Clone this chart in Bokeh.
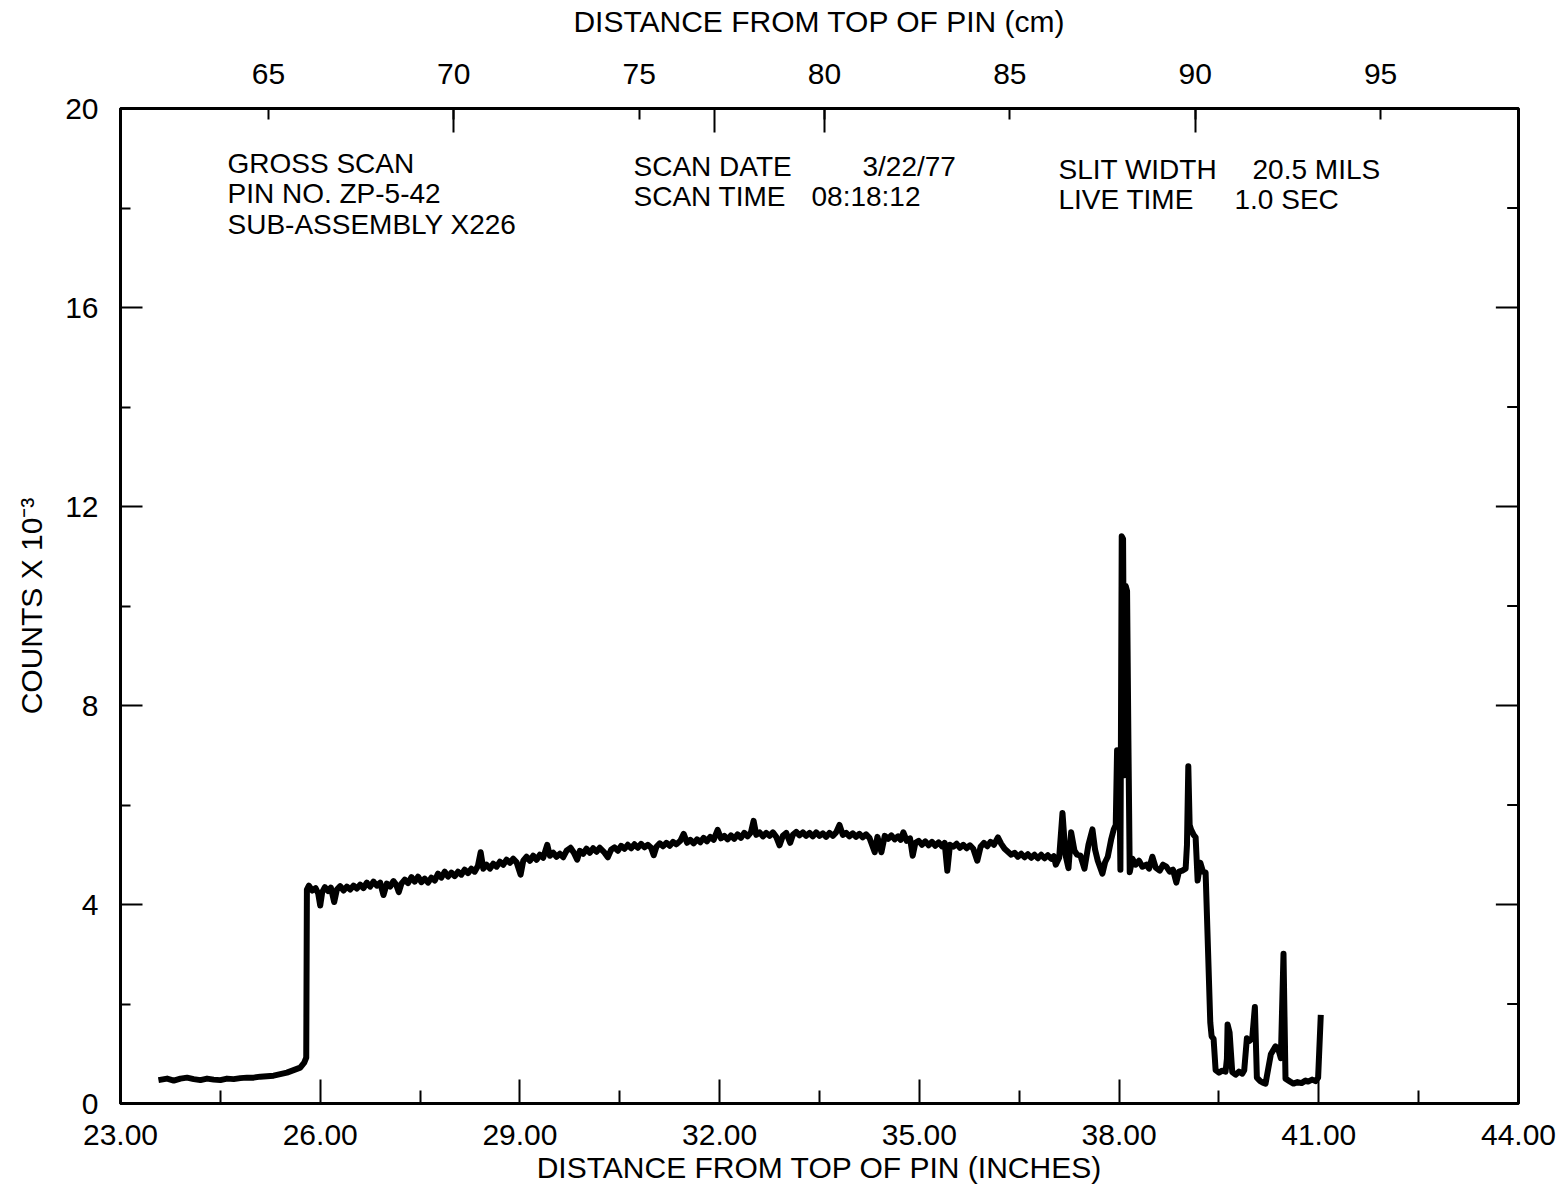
from bokeh.plotting import figure
from bokeh.models import (Range1d, LinearAxis, FixedTicker, PrintfTickFormatter,
                          Label, ColumnDataSource)
from bokeh.embed import file_html
from bokeh.resources import INLINE

# ---------------- data ----------------
# distance from top of pin (inches) and counts x 10^-3
scan_x_in = [
    23.57, 23.70, 23.80, 23.90, 24.00, 24.10, 24.20, 24.30, 24.40, 24.50,
    24.60, 24.70, 24.80, 24.90, 25.00, 25.10, 25.20, 25.30, 25.40, 25.50,
    25.60, 25.70, 25.76, 25.79, 25.80,
    25.83, 25.88, 25.93, 25.97, 26.00, 26.03, 26.07, 26.12, 26.16, 26.21,
    26.25, 26.30, 26.35, 26.40, 26.45, 26.50, 26.55, 26.60, 26.65, 26.70,
    26.75, 26.80, 26.85, 26.90, 26.95, 27.00, 27.05, 27.10, 27.14, 27.18,
    27.22, 27.27, 27.32, 27.37, 27.42, 27.47, 27.52, 27.57, 27.62, 27.67,
    27.72, 27.77, 27.82, 27.87, 27.92, 27.97, 28.02, 28.07, 28.12, 28.17,
    28.22, 28.27, 28.32, 28.37, 28.41, 28.45, 28.50, 28.55, 28.60, 28.65,
    28.70, 28.75, 28.80, 28.85, 28.90, 28.95, 29.01, 29.05, 29.10, 29.15,
    29.20, 29.25, 29.30, 29.35, 29.41, 29.45, 29.50, 29.55, 29.60, 29.65,
    29.70, 29.76, 29.81, 29.86, 29.90, 29.95, 30.00, 30.05, 30.10, 30.15,
    30.20, 30.26, 30.32, 30.37, 30.42, 30.47, 30.52, 30.57, 30.62, 30.67,
    30.72, 30.77, 30.82, 30.87, 30.92, 30.97, 31.01, 31.05, 31.10, 31.15,
    31.20, 31.25, 31.30, 31.35, 31.41, 31.46, 31.51, 31.56, 31.61, 31.66,
    31.71, 31.76, 31.81, 31.86, 31.91, 31.97, 32.02, 32.07, 32.12, 32.17,
    32.22, 32.27, 32.32, 32.37, 32.42, 32.47, 32.51, 32.55, 32.60, 32.65,
    32.70, 32.75, 32.80, 32.85, 32.90, 32.95, 33.00, 33.06, 33.10, 33.15,
    33.20, 33.25, 33.30, 33.35, 33.40, 33.45, 33.50, 33.55, 33.60, 33.65,
    33.70, 33.75, 33.80, 33.85, 33.90, 33.95, 34.00, 34.05, 34.10, 34.15,
    34.20, 34.25, 34.33, 34.37, 34.43, 34.48, 34.53, 34.58, 34.63, 34.68,
    34.72, 34.76, 34.81, 34.86, 34.90, 34.94, 34.99, 35.04, 35.09, 35.14,
    35.19, 35.24, 35.29, 35.34, 35.38, 35.42, 35.46, 35.51, 35.56, 35.61,
    35.66, 35.71, 35.76, 35.81, 35.87, 35.92, 35.97, 36.02, 36.07, 36.12,
    36.18, 36.23, 36.28, 36.33, 36.38, 36.43, 36.48, 36.53, 36.58, 36.63,
    36.68, 36.73, 36.78, 36.83, 36.88, 36.93, 36.98, 37.02, 37.05, 37.10,
    37.15, 37.195, 37.24, 37.28, 37.33, 37.37, 37.42, 37.48, 37.54, 37.60,
    37.64, 37.68, 37.75, 37.79, 37.83, 37.88, 37.92, 37.95, 37.97, 38.00,
    38.02, 38.04, 38.06, 38.08, 38.10, 38.12, 38.14, 38.16, 38.20, 38.25,
    38.30, 38.35, 38.41, 38.45, 38.50, 38.55, 38.61, 38.66, 38.71, 38.76,
    38.81, 38.86, 38.90, 38.95, 39.00, 39.02, 39.04, 39.06, 39.08, 39.12,
    39.15, 39.18, 39.22, 39.26, 39.30, 39.37, 39.39, 39.42, 39.45, 39.50,
    39.55, 39.60, 39.62, 39.63, 39.66, 39.70, 39.75, 39.80, 39.85, 39.88,
    39.92, 39.96, 40.00, 40.04, 40.06, 40.07, 40.12, 40.16, 40.20, 40.28,
    40.35, 40.40, 40.43, 40.47, 40.50, 40.57, 40.62, 40.68, 40.74, 40.80,
    40.84, 40.90, 40.95, 40.99, 41.03,
]
scan_counts_k = [
    0.47, 0.50, 0.46, 0.50, 0.52, 0.49, 0.47, 0.50, 0.48, 0.47,
    0.50, 0.49, 0.51, 0.52, 0.52, 0.54, 0.55, 0.56, 0.59, 0.62,
    0.67, 0.72, 0.82, 0.92, 4.30,
    4.38, 4.28, 4.33, 4.22, 3.98, 4.25, 4.35, 4.27, 4.34, 4.05,
    4.30, 4.37, 4.28, 4.36, 4.30, 4.38, 4.32, 4.40, 4.33, 4.44,
    4.36, 4.46, 4.38, 4.44, 4.19, 4.42, 4.36, 4.47, 4.40, 4.25,
    4.42, 4.50, 4.43, 4.55, 4.46, 4.56, 4.45, 4.52, 4.44, 4.54,
    4.48, 4.62, 4.54, 4.66, 4.56, 4.64, 4.57, 4.66, 4.60, 4.70,
    4.63, 4.72, 4.66, 4.78, 5.05, 4.72, 4.80, 4.72, 4.82, 4.76,
    4.86, 4.80, 4.90, 4.84, 4.92, 4.85, 4.60, 4.88, 4.96, 4.88,
    4.98, 4.90, 5.00, 4.94, 5.20, 4.98, 5.04, 4.96, 5.02, 4.95,
    5.08, 5.14, 5.04, 4.90, 5.08, 5.02, 5.12, 5.04, 5.13, 5.06,
    5.14, 5.06, 4.95, 5.10, 5.15, 5.08, 5.18, 5.12, 5.20, 5.13,
    5.21, 5.14, 5.22, 5.15, 5.20, 5.14, 4.99, 5.16, 5.23, 5.17,
    5.24, 5.18, 5.26, 5.21, 5.28, 5.42, 5.24, 5.30, 5.23, 5.31,
    5.25, 5.34, 5.27, 5.36, 5.30, 5.50, 5.33, 5.38, 5.31, 5.39,
    5.32, 5.41, 5.34, 5.44, 5.37, 5.45, 5.68, 5.40, 5.45, 5.37,
    5.44, 5.38, 5.45, 5.36, 5.19, 5.38, 5.44, 5.24, 5.40, 5.46,
    5.39, 5.45, 5.38, 5.44, 5.37, 5.45, 5.38, 5.43, 5.36, 5.44,
    5.38, 5.45, 5.60, 5.40, 5.44, 5.37, 5.43, 5.36, 5.42, 5.35,
    5.41, 5.34, 5.05, 5.36, 5.05, 5.38, 5.32, 5.39, 5.31, 5.37,
    5.30, 5.45, 5.28, 5.33, 4.98, 5.24, 5.28, 5.20, 5.27, 5.19,
    5.26, 5.18, 5.25, 5.17, 5.24, 4.68, 5.20, 5.16, 5.22, 5.14,
    5.20, 5.13, 5.19, 5.12, 4.88, 5.16, 5.24, 5.17, 5.26, 5.20,
    5.35, 5.22, 5.12, 5.06, 5.00, 5.04, 4.96, 5.02, 4.95, 5.01,
    4.94, 5.00, 4.93, 5.00, 4.93, 4.99, 4.92, 4.97, 4.80, 4.94,
    5.84, 5.00, 4.73, 5.45, 5.08, 5.00, 4.98, 4.72, 5.20, 5.51,
    5.10, 4.88, 4.62, 4.85, 4.96, 5.30, 5.51, 5.60, 7.10, 7.05,
    4.70, 11.40, 11.35, 6.60, 10.40, 10.30, 7.30, 4.65, 4.92, 4.80,
    4.88, 4.76, 4.80, 4.72, 4.96, 4.74, 4.68, 4.80, 4.76, 4.66,
    4.70, 4.44, 4.66, 4.68, 4.72, 5.20, 6.78, 5.60, 5.51, 5.40,
    5.35, 4.48, 4.84, 4.66, 4.64, 1.63, 1.35, 1.30, 0.67, 0.62,
    0.66, 0.64, 0.90, 1.59, 1.43, 0.63, 0.58, 0.64, 0.60, 0.67,
    1.31, 1.26, 1.31, 1.94, 1.00, 0.52, 0.45, 0.42, 0.40, 0.99,
    1.15, 1.05, 0.91, 3.01, 0.50, 0.44, 0.40, 0.43, 0.41, 0.46,
    0.44, 0.48, 0.45, 0.52, 1.78,
]

# axis definitions
inch_major_ticks = [23, 26, 29, 32, 35, 38, 41, 44]
inch_minor_ticks = [24.5, 27.5, 30.5, 33.5, 36.5, 39.5, 42.5]
count_major_ticks = [0, 4, 8, 12, 16, 20]
count_minor_ticks = [2, 6, 10, 14, 18]
right_major_ticks = [4, 8, 12, 16]
right_minor_ticks = [2, 6, 10, 14, 18]
cm_label_ticks = [65, 70, 75, 80, 85, 90, 95]
cm_long_ticks = [70, 77.03, 80, 90]
cm_range = (61.01, 98.72)

header_left = ["GROSS SCAN", "PIN NO. ZP-5-42", "SUB-ASSEMBLY X226"]

FONT = "Liberation Sans"

src = ColumnDataSource(dict(x=scan_x_in, y=scan_counts_k))

p = figure(width=1567, height=1189, x_range=Range1d(23, 44), y_range=Range1d(0, 20),
           output_backend="svg", toolbar_location=None,
           min_border_left=120, min_border_right=49, min_border_top=108,
           min_border_bottom=86, x_axis_location=None, y_axis_location=None)
p.grid.visible = False
p.outline_line_color = "black"
p.outline_line_width = 3
p.background_fill_color = "white"
p.border_fill_color = "white"

p.extra_x_ranges = {"cm": Range1d(*cm_range)}


def style(ax, major_len, minor_len):
    ax.axis_line_color = "black"
    ax.axis_line_width = 3
    ax.major_tick_line_color = "black"
    ax.minor_tick_line_color = "black"
    ax.major_tick_line_width = 2
    ax.minor_tick_line_width = 2
    ax.major_tick_in = major_len
    ax.major_tick_out = 0
    ax.minor_tick_in = minor_len
    ax.minor_tick_out = 0
    ax.major_label_text_font = FONT
    ax.major_label_text_font_size = "30px"
    ax.major_label_text_color = "black"
    ax.axis_label_text_font = FONT
    ax.axis_label_text_font_size = "30px"
    ax.axis_label_text_font_style = "normal"
    ax.axis_label_text_color = "black"


xb = LinearAxis(ticker=FixedTicker(ticks=inch_major_ticks, minor_ticks=inch_minor_ticks),
                formatter=PrintfTickFormatter(format="%.2f"),
                axis_label="DISTANCE FROM TOP OF PIN (INCHES)")
style(xb, 24, 13)
xb.major_label_standoff = 21
xb.axis_label_standoff = 3
p.add_layout(xb, "below")

xt = LinearAxis(x_range_name="cm",
                ticker=FixedTicker(ticks=cm_label_ticks, minor_ticks=cm_long_ticks),
                axis_label="DISTANCE FROM TOP OF PIN (cm)")
style(xt, 11, 24)
xt.major_label_standoff = 25
xt.axis_label_standoff = 23
p.add_layout(xt, "above")

yl = LinearAxis(ticker=FixedTicker(ticks=count_major_ticks, minor_ticks=count_minor_ticks),
                axis_label="COUNTS X 10\u207b\u00b3")
style(yl, 22, 10)
yl.major_label_standoff = 22
yl.axis_label_standoff = 14
p.add_layout(yl, "left")

# right-hand frame ticks (no labels), drawn inward from the right edge
x_right = p.x_range.end
p.segment(x0=[x_right] * len(right_major_ticks), y0=right_major_ticks,
          x1=[x_right - 0.34] * len(right_major_ticks), y1=right_major_ticks,
          line_color="black", line_width=2)
p.segment(x0=[x_right] * len(right_minor_ticks), y0=right_minor_ticks,
          x1=[x_right - 0.17] * len(right_minor_ticks), y1=right_minor_ticks,
          line_color="black", line_width=2)

p.line("x", "y", source=src, line_color="black", line_width=6, line_join="round")

lab = dict(text_font=FONT, text_font_size="28px", text_color="black",
           text_baseline="middle", text_align="left")
for txt, yy in zip(header_left, [18.89, 18.29, 17.67]):
    p.add_layout(Label(x=24.607, y=yy, text=txt, **lab))
p.add_layout(Label(x=30.706, y=18.83, text="SCAN DATE", **lab))
p.add_layout(Label(x=34.146, y=18.83, text="3/22/77", **lab))
p.add_layout(Label(x=30.706, y=18.23, text="SCAN TIME", **lab))
p.add_layout(Label(x=33.38, y=18.23, text="08:18:12", **lab))
p.add_layout(Label(x=37.09, y=18.77, text="SLIT WIDTH", **lab))
p.add_layout(Label(x=40.005, y=18.77, text="20.5 MILS", **lab))
p.add_layout(Label(x=37.09, y=18.17, text="LIVE TIME", **lab))
p.add_layout(Label(x=39.734, y=18.17, text="1.0 SEC", **lab))

open("out.html", "w").write(file_html(p, INLINE))
